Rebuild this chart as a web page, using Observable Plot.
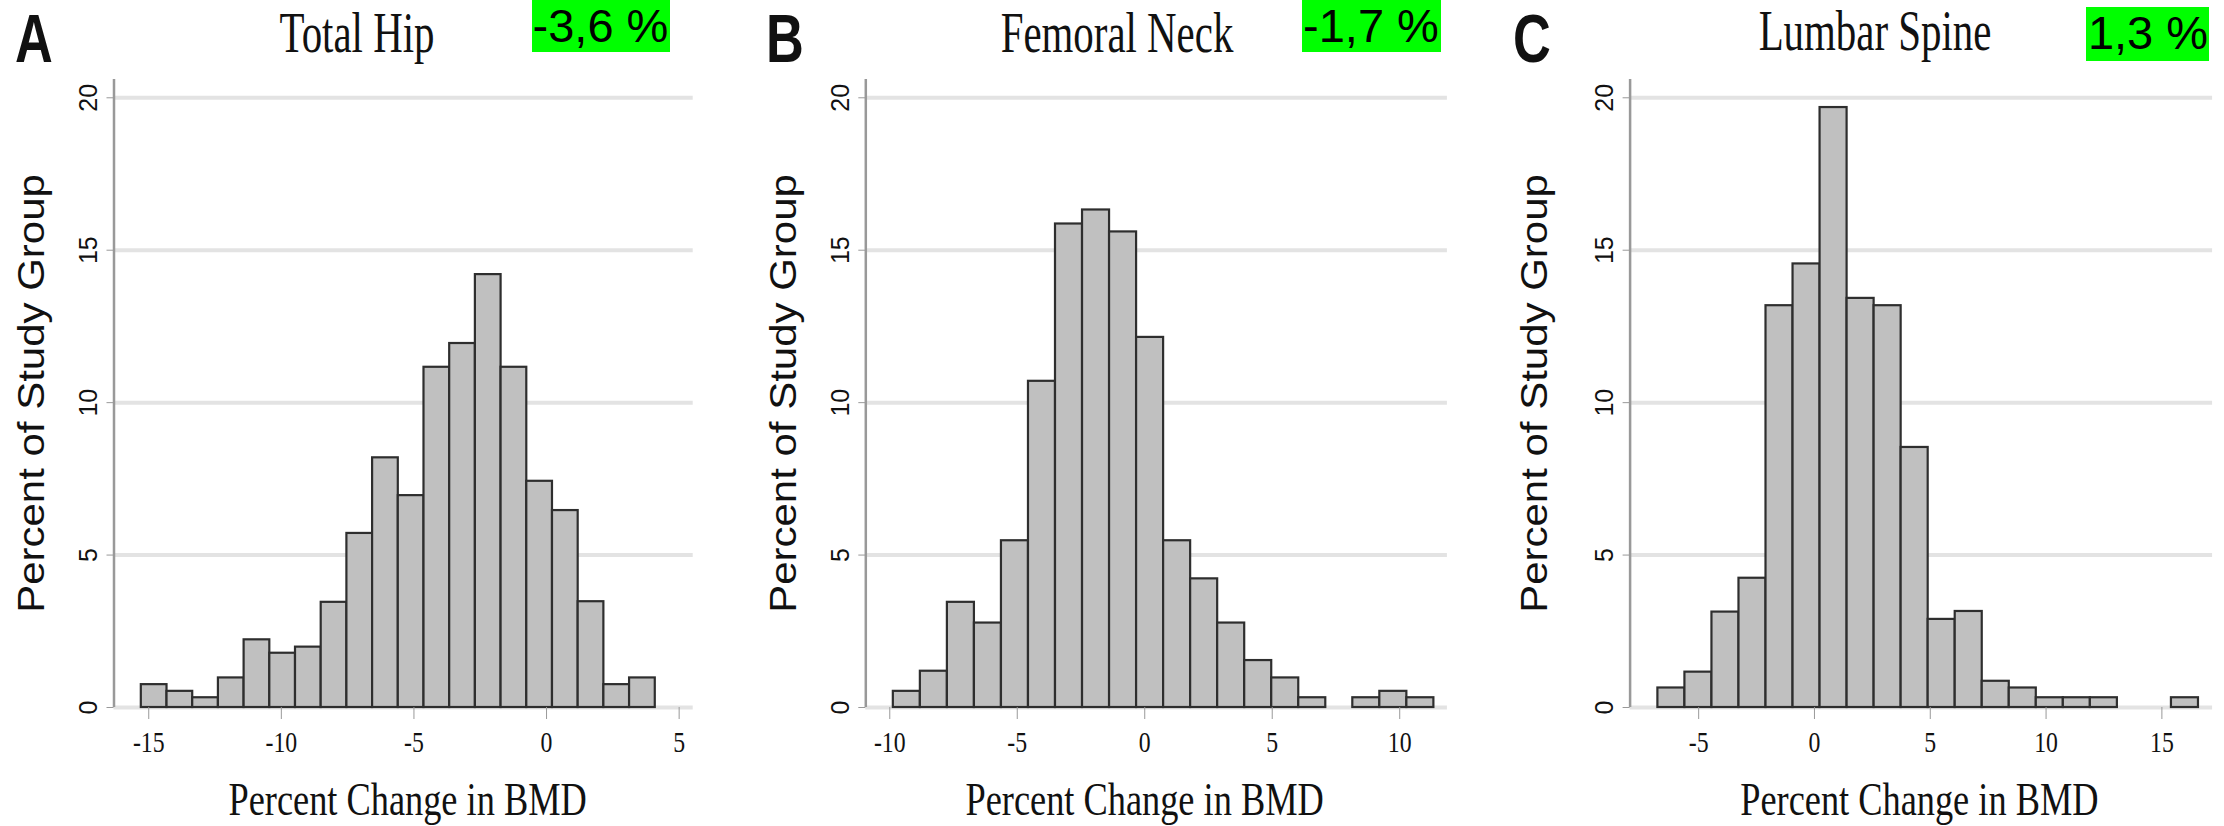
<!DOCTYPE html>
<html><head><meta charset="utf-8">
<script src="https://cdn.jsdelivr.net/npm/d3@7"></script>
<script src="https://cdn.jsdelivr.net/npm/@observablehq/plot@0.6"></script>
<style>
html,body{margin:0;padding:0;background:#fff;}
#root{position:relative;width:2224px;height:826px;overflow:hidden;background:#fff;}
.lbl{position:absolute;white-space:nowrap;line-height:1;transform-origin:0 0;}
.letter{font-family:"Liberation Sans",Arial,sans-serif;font-weight:bold;font-size:68px;color:#111;}
.title{font-family:"Liberation Serif","Times New Roman",serif;font-size:56px;color:#111;}
.box{position:absolute;background:#00ff00;}
.boxtxt{font-family:"Liberation Sans",Arial,sans-serif;color:#000;}
.panel{position:absolute;top:70px;}
</style></head><body><div id="root"></div>
<script>
// ---------- data ----------
const panelLetters = ["A", "B", "C"];
const panelTitles = ["Total Hip", "Femoral Neck", "Lumbar Spine"];
const meanChange = ["-3,6 %", "-1,7 %", "1,3 %"];
const yTitle = "Percent of Study Group";
const xTitle = "Percent Change in BMD";
const yTicks = [0, 5, 10, 15, 20];

// Total Hip: 20 bins
const hipBinStart = -15.28, hipBinWidth = 0.969;
const hipPercent = [0.75, 0.53, 0.32, 0.97, 2.22, 1.78, 1.98, 3.45, 5.71, 8.19, 6.95, 11.16, 11.94, 14.2, 11.16, 7.42, 6.46, 3.47, 0.75, 0.97];
const hipTicks = [-15, -10, -5, 0, 5];

// Femoral Neck: 20 bins
const neckBinStart = -9.86, neckBinWidth = 1.06;
const neckPercent = [0.53, 1.19, 3.45, 2.77, 5.47, 10.7, 15.86, 16.32, 15.6, 12.14, 5.47, 4.22, 2.77, 1.54, 0.97, 0.32, 0, 0.32, 0.53, 0.32];
const neckTicks = [-10, -5, 0, 5, 10];

// Lumbar Spine: 20 bins
const spineBinStart = -6.76, spineBinWidth = 1.167;
const spinePercent = [0.64, 1.16, 3.13, 4.24, 13.18, 14.55, 19.68, 13.42, 13.18, 8.53, 2.89, 3.15, 0.86, 0.64, 0.32, 0.32, 0.32, 0, 0, 0.32];
const spineTicks = [-5, 0, 5, 10, 15];

// ---------- layout ----------
const root = document.getElementById("root");
const header = [
  {letterX: 34, titleX: 356.6, titleTop: 5.2, box: [532, 0, 138, 52], txtX: 600.5, txtTop: 1.9, txtSize: 47},
  {letterX: 784.7, titleX: 1117, titleTop: 5.2, box: [1302, 0, 139, 52], txtX: 1371, txtTop: 1.9, txtSize: 47},
  {letterX: 1531.8, titleX: 1874.6, titleTop: 3.2, box: [2086, 7, 123, 54], txtX: 2148, txtTop: 8.9, txtSize: 47}
];
function addLabel(text, cls, cx, top, sx, size) {
  const d = document.createElement("div");
  d.className = "lbl " + cls;
  d.textContent = text;
  d.style.left = cx + "px";
  d.style.top = top + "px";
  if (size) d.style.fontSize = size + "px";
  d.style.transform = `scaleX(${sx}) translateX(-50%)`;
  root.appendChild(d);
}
header.forEach((h, k) => {
  const b = document.createElement("div");
  b.className = "box";
  b.style.left = h.box[0] + "px"; b.style.top = h.box[1] + "px";
  b.style.width = h.box[2] + "px"; b.style.height = h.box[3] + "px";
  root.appendChild(b);
  addLabel(panelLetters[k], "letter", h.letterX, 4.1, 0.77);
  addLabel(panelTitles[k], "title", h.titleX, h.titleTop, 0.73);
  addLabel(meanChange[k], "boxtxt", h.txtX, h.txtTop, 1, h.txtSize);
});

const panels = [
  {pct: hipPercent, start: hipBinStart, bw: hipBinWidth, ticks: hipTicks, domain: [-16.31, 5.53], left: 0, w: 741, ml: 113.5, mr: 48.3, ylabDx: -70, xlabDx: 4},
  {pct: neckPercent, start: neckBinStart, bw: neckBinWidth, ticks: neckTicks, domain: [-10.94, 11.87], left: 741, w: 742, ml: 124.3, mr: 36.1, ylabDx: -69.5, xlabDx: -12},
  {pct: spinePercent, start: spineBinStart, bw: spineBinWidth, ticks: spineTicks, domain: [-7.96, 17.19], left: 1483, w: 741, ml: 146.6, mr: 11.9, ylabDx: -83, xlabDx: -2}
];
const squeeze = {29: 0.82, 46: 0.79, 42: 0.9};

panels.forEach((p) => {
  const bins = p.pct
    .map((v, i) => ({x1: p.start + i * p.bw, x2: p.start + (i + 1) * p.bw, pct: v}))
    .filter((d) => d.pct > 0);
  const svg = Plot.plot({
    width: p.w, height: 756,
    marginLeft: p.ml, marginRight: p.mr, marginTop: 9, marginBottom: 119,
    x: {domain: p.domain, label: null},
    y: {domain: [0, 20.6], label: null},
    marks: [
      Plot.gridY(yTicks, {stroke: "#e3e3e3", strokeOpacity: 1, strokeWidth: 4}),
      Plot.rectY(bins, {x1: "x1", x2: "x2", y: "pct", fill: "#c0c0c0", stroke: "#2e2e2e", strokeWidth: 2.2}),
      Plot.ruleX([p.domain[0]], {stroke: "#999", strokeWidth: 2.5}),
      Plot.axisX(p.ticks, {tickSize: 12, tickPadding: 12, stroke: "#999", fill: "#111", fontSize: 29, fontFamily: "Liberation Serif", tickFormat: (d) => String(d), label: null}),
      Plot.axisY(yTicks, {tickSize: 7, tickPadding: 10, tickRotate: -90, stroke: "#999", fill: "#111", fontSize: 25, fontFamily: "Liberation Sans", tickFormat: (d) => String(d), label: null}),
      Plot.text([yTitle], {text: (d) => d, frameAnchor: "left", dx: p.ylabDx, rotate: -90, lineAnchor: "bottom", textAnchor: "middle", fontSize: 42, fontFamily: "Liberation Sans", fill: "#111"}),
      Plot.text([xTitle], {text: (d) => d, frameAnchor: "bottom", dx: p.xlabDx, dy: 107, lineAnchor: "bottom", fontSize: 46, fontFamily: "Liberation Serif", fill: "#111"})
    ]
  });
  svg.querySelectorAll("text").forEach((t) => {
    const g = t.closest("[font-size]");
    if (!g) return;
    const s = squeeze[parseFloat(g.getAttribute("font-size"))];
    if (!s) return;
    const tr = t.getAttribute("transform") || "";
    t.setAttribute("transform", tr + (tr.includes("rotate") ? ` scale(1,${s})` : ` scale(${s},1)`));
  });
  const div = document.createElement("div");
  div.className = "panel";
  div.style.left = p.left + "px";
  div.appendChild(svg);
  root.appendChild(div);
});
</script></body></html>
